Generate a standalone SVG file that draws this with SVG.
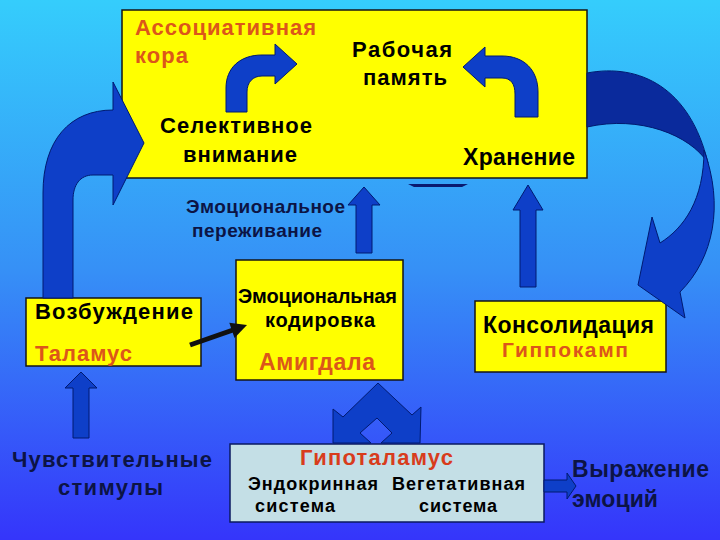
<svg xmlns="http://www.w3.org/2000/svg" width="720" height="540" viewBox="0 0 720 540">
<defs>
<linearGradient id="bg" x1="0" y1="0" x2="0" y2="1">
<stop offset="0" stop-color="#35cdfc"/>
<stop offset="0.5" stop-color="#3690f6"/>
<stop offset="1" stop-color="#3535fb"/>
</linearGradient>
<style>
text{font-family:"Liberation Sans",Arial,sans-serif;font-weight:bold}
.box{fill:#ffff00;stroke:#141414;stroke-width:1.5}
.hbox{fill:#c4dfe6;stroke:#0a1a60;stroke-width:1.5}
.blk{fill:#000}
.org{fill:#dc561a}
.red{fill:#d83c1c}
.nav{fill:#0c1445}
.arr{fill:#0e3fc8;stroke:#001a70;stroke-width:1}
.dark{fill:#0a2a9c;stroke:#001a70;stroke-width:1}
</style>
</defs>
<rect x="0" y="0" width="720" height="540" fill="url(#bg)"/>

<g id="cortex">
<rect class="box" x="122" y="10" width="465" height="168"/>
<text class="org" x="135" y="35" font-size="22" textLength="181" lengthAdjust="spacing">Ассоциативная</text>
<text class="org" x="135" y="63" font-size="22" textLength="53" lengthAdjust="spacing">кора</text>
<text class="blk" x="352" y="57" font-size="22" textLength="100" lengthAdjust="spacing">Рабочая</text>
<text class="blk" x="363" y="85" font-size="22" textLength="84" lengthAdjust="spacing">память</text>
<text class="blk" x="160" y="133" font-size="22" textLength="152" lengthAdjust="spacing">Селективное</text>
<text class="blk" x="183" y="162" font-size="22" textLength="114" lengthAdjust="spacing">внимание</text>
<text class="blk" x="463" y="165" font-size="23" textLength="112" lengthAdjust="spacing">Хранение</text>
</g>

<g id="emotional-experience">
<text class="nav" x="186" y="213" font-size="19" textLength="159" lengthAdjust="spacing">Эмоциональное</text>
<text class="nav" x="192" y="237" font-size="19" textLength="130" lengthAdjust="spacing">переживание</text>
</g>

<g id="thalamus">
<rect class="box" x="26" y="298" width="175" height="68"/>
<text class="blk" x="35" y="319" font-size="22" textLength="158" lengthAdjust="spacing">Возбуждение</text>
<text class="org" x="35" y="361" font-size="22" textLength="97" lengthAdjust="spacing">Таламус</text>
</g>

<g id="amygdala">
<rect class="box" x="236" y="260" width="167" height="120"/>
<text class="blk" x="238" y="303" font-size="20" textLength="159" lengthAdjust="spacing">Эмоциональная</text>
<text class="blk" x="265" y="327" font-size="20" textLength="110" lengthAdjust="spacing">кодировка</text>
<text class="org" x="259" y="370" font-size="23" textLength="116" lengthAdjust="spacing">Амигдала</text>
</g>

<g id="hippocampus">
<rect class="box" x="475" y="301" width="191" height="71"/>
<text class="blk" x="483" y="333" font-size="23" textLength="171" lengthAdjust="spacing">Консолидация</text>
<text class="org" x="502" y="357" font-size="21" textLength="126" lengthAdjust="spacing">Гиппокамп</text>
</g>

<g id="sensory-stimuli">
<text class="nav" x="12" y="467" font-size="22" textLength="200" lengthAdjust="spacing">Чувствительные</text>
<text class="nav" x="58" y="495" font-size="22" textLength="105" lengthAdjust="spacing">стимулы</text>
</g>

<g id="hypothalamus">
<rect class="hbox" x="230" y="444" width="314" height="78"/>
<text class="red" x="300" y="465" font-size="22" textLength="153" lengthAdjust="spacing">Гипоталамус</text>
<text class="blk" x="248" y="490" font-size="18" textLength="130" lengthAdjust="spacing">Эндокринная</text>
<text class="blk" x="392" y="490" font-size="18" textLength="133" lengthAdjust="spacing">Вегетативная</text>
<text class="blk" x="255" y="512" font-size="18" textLength="80" lengthAdjust="spacing">система</text>
<text class="blk" x="419" y="512" font-size="18" textLength="78" lengthAdjust="spacing">система</text>
</g>

<g id="expression">
<text class="nav" x="572" y="477" font-size="23" textLength="137" lengthAdjust="spacing">Выражение</text>
<text class="nav" x="572" y="507" font-size="23" textLength="86" lengthAdjust="spacing">эмоций</text>
</g>

<g id="connectors">
<path class="arr" d="M226,112 L226,88 C226,68 240,55 262,55 L275,55 L275,44 L297,64 L275,84 L275,76 L262,76 C253,76 247,82 247,92 L247,112 Z"/>
<path class="arr" d="M538,117 L538,92 C538,70 524,56 502,56 L485,56 L485,47 L463,67 L485,87 L485,78 L502,78 C511,78 515,84 515,94 L515,117 Z"/>
<path class="arr" d="M43,298 L43,193 C43,140 70,110 113,110 L113,82 L144,143 L113,205 L113,175 L93,175 C80,175 73,185 73,200 L73,298 Z"/>
<path class="dark" d="M587,73 C640,63 690,88 708,163 C690,135 640,115 587,127 Z"/>
<path class="arr" d="M704,150 C724,205 714,258 680,292 L685,318 L638,285 L652,217 L660,243 C684,228 704,200 704,150 Z"/>
<path fill="#0a1a70" d="M408,184 L468,184 L462,187 L414,187 Z"/>
<path class="arr" d="M356,253 L356,205 L348,205 L364,187 L380,205 L372,205 L372,253 Z"/>
<path class="arr" d="M520,287 L520,210 L513,210 L528,185 L543,210 L536,210 L536,287 Z"/>
<path class="arr" d="M73,438 L73,388 L65,388 L81,372 L97,388 L89,388 L89,438 Z"/>
<path class="arr" d="M333,443 L333,409 L343,417 L378,383 L412,415 L421,407 L420,443 L381,443 L392,433 L377,418 L360,433 L371,443 Z"/>
<path class="arr" d="M544,480 L567,480 L567,473 L576,486 L567,499 L567,492 L544,492 Z"/>
<line x1="190" y1="345" x2="233" y2="330" stroke="#111" stroke-width="5"/>
<polygon fill="#111" points="247,325 229.3,322.7 234.5,337.9"/>
</g>
</svg>
